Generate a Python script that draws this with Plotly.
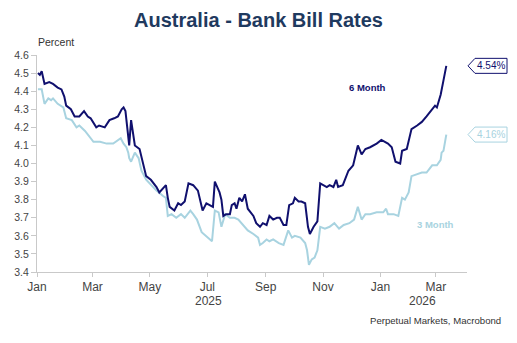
import plotly.graph_objects as go

# ---- data ----
dates_6m = ["2025-01-02","2025-01-04","2025-01-06","2025-01-09","2025-01-14","2025-01-18","2025-01-23","2025-01-27",
            "2025-01-30","2025-02-01","2025-02-06","2025-02-10","2025-02-15","2025-02-20","2025-02-24","2025-02-27",
            "2025-03-05","2025-03-08","2025-03-14","2025-03-19","2025-03-24","2025-03-28","2025-04-01","2025-04-03",
            "2025-04-05","2025-04-07","2025-04-09","2025-04-11","2025-04-13","2025-04-15","2025-04-20","2025-04-23",
            "2025-04-27","2025-05-02","2025-05-08","2025-05-11","2025-05-14","2025-05-18","2025-05-20","2025-05-22",
            "2025-05-27","2025-05-31","2025-06-03","2025-06-07","2025-06-11","2025-06-16","2025-06-21","2025-06-26",
            "2025-06-30","2025-07-03","2025-07-07","2025-07-09","2025-07-14","2025-07-16","2025-07-18","2025-07-21",
            "2025-07-25","2025-07-27","2025-07-30","2025-08-01","2025-08-04","2025-08-07","2025-08-10","2025-08-13",
            "2025-08-19","2025-08-22","2025-08-26","2025-08-29","2025-09-02","2025-09-05","2025-09-09","2025-09-13",
            "2025-09-16","2025-09-20","2025-09-23","2025-09-26","2025-09-30","2025-10-02","2025-10-06","2025-10-09",
            "2025-10-13","2025-10-16","2025-10-18","2025-10-22","2025-10-26","2025-10-29","2025-11-01","2025-11-05",
            "2025-11-08","2025-11-12","2025-11-15","2025-11-17","2025-11-22","2025-11-28","2025-12-03","2025-12-08",
            "2025-12-12","2025-12-16","2025-12-21","2025-12-28","2026-01-02","2026-01-06","2026-01-09","2026-01-13",
            "2026-01-15","2026-01-17","2026-01-22","2026-01-24","2026-01-29","2026-02-03","2026-02-09","2026-02-14",
            "2026-02-19","2026-02-25","2026-02-28","2026-03-02","2026-03-06","2026-03-09","2026-03-12"]
rate_6m = [4.50,4.49,4.51,4.44,4.45,4.44,4.42,4.41,
           4.37,4.32,4.30,4.26,4.26,4.29,4.26,4.25,
           4.20,4.21,4.20,4.24,4.25,4.26,4.30,4.31,
           4.29,4.20,4.10,4.24,4.18,4.10,4.08,4.02,
           3.93,3.91,3.87,3.84,3.86,3.88,3.81,3.76,
           3.74,3.78,3.77,3.79,3.89,3.88,3.85,3.74,
           3.78,3.77,3.76,3.90,3.84,3.80,3.71,3.72,
           3.72,3.77,3.78,3.75,3.81,3.79,3.83,3.75,
           3.71,3.67,3.65,3.67,3.66,3.71,3.69,3.70,
           3.70,3.66,3.66,3.77,3.78,3.81,3.79,3.79,
           3.78,3.65,3.61,3.65,3.68,3.89,3.88,3.87,
           3.88,3.87,3.91,3.87,3.88,3.96,3.99,4.10,
           4.05,4.08,4.09,4.11,4.13,4.12,4.11,4.09,
           4.04,4.01,4.00,4.07,4.08,4.19,4.21,4.23,
           4.26,4.30,4.32,4.31,4.38,4.46,4.54]

dates_3m = ["2025-01-02","2025-01-06","2025-01-09","2025-01-13","2025-01-16","2025-01-18","2025-01-23","2025-01-29",
            "2025-02-01","2025-02-07","2025-02-12","2025-02-15","2025-02-21","2025-02-26","2025-03-02","2025-03-09",
            "2025-03-16","2025-03-23","2025-03-28","2025-03-31","2025-04-03","2025-04-06","2025-04-08","2025-04-09",
            "2025-04-11","2025-04-15","2025-04-19","2025-04-22","2025-04-27","2025-05-02","2025-05-08","2025-05-15",
            "2025-05-18","2025-05-20","2025-05-24","2025-05-29","2025-06-03","2025-06-07","2025-06-13","2025-06-16",
            "2025-06-20","2025-06-25","2025-06-29","2025-07-04","2025-07-06","2025-07-09","2025-07-13","2025-07-16",
            "2025-07-20","2025-07-25","2025-07-30","2025-08-03","2025-08-08","2025-08-13","2025-08-19","2025-08-24",
            "2025-08-26","2025-08-29","2025-09-02","2025-09-05","2025-09-09","2025-09-15","2025-09-20","2025-09-25",
            "2025-09-29","2025-10-02","2025-10-08","2025-10-13","2025-10-15","2025-10-17","2025-10-20","2025-10-23",
            "2025-10-26","2025-10-29","2025-11-03","2025-11-08","2025-11-13","2025-11-18","2025-11-23","2025-11-29",
            "2025-12-04","2025-12-08","2025-12-12","2025-12-16","2025-12-21","2025-12-28","2026-01-04","2026-01-07",
            "2026-01-09","2026-01-15","2026-01-20","2026-01-24","2026-01-27","2026-01-31","2026-02-03","2026-02-09",
            "2026-02-14","2026-02-19","2026-02-25","2026-03-02","2026-03-06","2026-03-07","2026-03-09","2026-03-12"]
rate_3m = [4.41,4.41,4.33,4.36,4.35,4.36,4.33,4.31,
           4.25,4.24,4.20,4.21,4.18,4.15,4.12,4.12,
           4.11,4.11,4.13,4.14,4.11,4.09,4.06,4.03,
           4.01,4.06,4.03,3.96,3.91,3.88,3.85,3.82,
           3.81,3.71,3.72,3.70,3.72,3.70,3.74,3.72,
           3.69,3.62,3.60,3.58,3.57,3.74,3.73,3.65,
           3.72,3.70,3.70,3.69,3.66,3.63,3.61,3.59,
           3.55,3.56,3.58,3.57,3.58,3.56,3.55,3.63,
           3.59,3.60,3.59,3.56,3.52,3.44,3.47,3.48,
           3.52,3.65,3.64,3.65,3.67,3.64,3.66,3.67,
           3.69,3.76,3.69,3.72,3.72,3.73,3.73,3.75,
           3.72,3.72,3.71,3.81,3.80,3.84,3.93,3.94,
           3.95,3.95,3.99,3.99,4.02,4.06,4.07,4.16]

tick_dates = ["2025-01-01","2025-03-01","2025-05-01","2025-07-01","2025-09-01","2025-11-01","2026-01-01","2026-03-01"]
tick_text = ["Jan","Mar","May","Jul","Sep","Nov","Jan","Mar"]
year_labels = ["2025", "2026"]
year_pos = ["2025-07-02", "2026-02-15"]
series_names = ["6 Month", "3 Month"]

# ---- style ----
NAVY = "#10106e"
LIGHT = "#a8d3e0"
AXIS = "#c9c9c9"
FONT = "Liberation Sans, Arial, sans-serif"
Y_MIN, Y_MAX = 3.4, 4.6

fig = go.Figure()
fig.add_trace(go.Scatter(x=dates_3m, y=rate_3m, mode="lines", name=series_names[1],
                         line=dict(color=LIGHT, width=2)))
fig.add_trace(go.Scatter(x=dates_6m, y=rate_6m, mode="lines", name=series_names[0],
                         line=dict(color=NAVY, width=2)))

fig.update_layout(
    width=517, height=343,
    margin=dict(l=37, r=50, t=55, b=71),
    paper_bgcolor="white", plot_bgcolor="white",
    showlegend=False,
    font=dict(family=FONT, color="#444444"),
    title=dict(text="<b>Australia - Bank Bill Rates</b>", x=0.5, xanchor="center",
               y=1 - 20 / 343, yanchor="middle", font=dict(size=20, color="#1f3a5f", family=FONT)),
    xaxis=dict(range=["2025-01-01", "2026-04-03"], tickvals=tick_dates, ticktext=tick_text,
               showline=True, linecolor=AXIS, linewidth=1, ticks="outside", ticklen=4, tickcolor=AXIS,
               showgrid=False, zeroline=False, tickfont=dict(size=12, color="#444444")),
    yaxis=dict(range=[Y_MIN, Y_MAX], dtick=0.1, tick0=3.4, tickformat=".1f",
               showline=True, linecolor=AXIS, linewidth=1, ticks="outside", ticklen=5, tickcolor=AXIS,
               showgrid=False, zeroline=False, tickfont=dict(size=10.5, color="#444444")),
)

annotations = []
for lbl, pos in zip(year_labels, year_pos):
    annotations.append(dict(text=lbl, x=pos, xref="x", y=0, yref="paper", yanchor="middle",
                            yshift=-29, showarrow=False, font=dict(size=12, color="#444444")))
annotations.append(dict(text="Percent", x=(36 - 37) / 430, xref="paper", xanchor="left",
                        y=1 + 13 / 217, yref="paper", yanchor="middle", showarrow=False,
                        font=dict(size=10.5, color="#333333")))
annotations.append(dict(text="Perpetual Markets, Macrobond", x=(503 - 37) / 430, xref="paper",
                        xanchor="right", y=-(320 - 272) / 217, yref="paper", yanchor="middle",
                        showarrow=False, font=dict(size=9.6, color="#333333")))
annotations.append(dict(text="<b>6 Month</b>", x="2025-12-18", xref="x", y=4.42, yref="y",
                        showarrow=False, font=dict(size=9.5, color=NAVY)))
annotations.append(dict(text="<b>3 Month</b>", x="2026-02-28", xref="x", y=3.665, yref="y",
                        showarrow=False, font=dict(size=9.5, color=LIGHT)))

shapes = []
for val, col in [(rate_6m[-1], NAVY), (rate_3m[-1], LIGHT)]:
    py = (val - Y_MIN) / (Y_MAX - Y_MIN)
    h = 7.5 / 217
    x0, x1, x2 = (468 - 37) / 430, (475 - 37) / 430, (507 - 37) / 430
    path = (f"M {x0} {py} L {x1} {py + h} L {x2} {py + h} L {x2} {py - h} "
            f"L {x1} {py - h} Z")
    shapes.append(dict(type="path", path=path, xref="paper", yref="paper",
                       line=dict(color=col, width=1), fillcolor="white", layer="above"))
    annotations.append(dict(text=f"{val:.2f}%", x=(491 - 37) / 430, xref="paper", xanchor="center",
                            y=py, yref="paper", yanchor="middle", showarrow=False,
                            font=dict(size=10, color=col)))

fig.update_layout(annotations=annotations, shapes=shapes)
fig.write_html("out.html")
